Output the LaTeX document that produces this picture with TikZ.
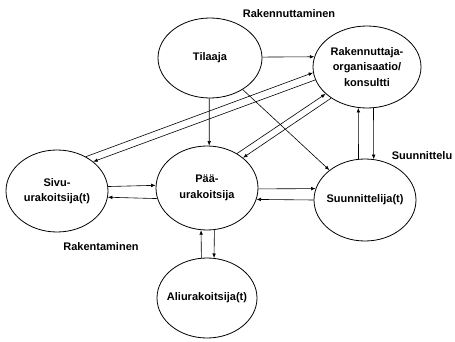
\documentclass[tikz,border=0pt]{standalone}
\usepackage{fontspec}
\setmainfont{Liberation Sans}
\usetikzlibrary{shapes.geometric,arrows.meta}
\tikzset{
  ell/.style={draw, ellipse, line width=0.8pt, inner sep=0pt},
  txt/.style={font=\fontsize{11}{15.5}\selectfont\bfseries, align=center, inner sep=0pt},
  conn/.style={line width=0.6pt, -{Latex[length=4.5pt,width=3.6pt]}},
}
\begin{document}
\begin{tikzpicture}[x=1pt,y=-1pt]
\useasboundingbox (0,0) rectangle (455,342);
% ellipses
\node[ell, minimum width=104pt, minimum height=80pt] (t) at (210,58) {};
\node[ell, minimum width=108pt, minimum height=82pt] (r) at (367,67) {};
\node[ell, minimum width=102pt, minimum height=82pt] (s) at (57,191) {};
\node[ell, minimum width=102pt, minimum height=84pt] (p) at (207,188) {};
\node[ell, minimum width=102pt, minimum height=82pt] (u) at (365,200) {};
\node[ell, minimum width=100pt, minimum height=80pt] (a) at (207,298) {};
% texts
\node[txt] (tt) at (t.center) {Tilaaja};
\node[txt] (rt) at (r.center) {Rakennuttaja-\\organisaatio/\\konsultti};
\node[txt] (st) at (s.center) {Sivu-\\urakoitsija(t)};
\node[txt] (pt) at (p.center) {Pää-\\urakoitsija};
\node[txt] (ut) at (u.center) {Suunnittelija(t)};
\node[txt] (at) at (a.center) {Aliurakoitsija(t)};
\node[txt] (l1) at (289,14) {Rakennuttaminen};
\node[txt] (l2) at (422,156) {Suunnittelu};
\node[txt] (l3) at (101,247) {Rakentaminen};
% connectors
\draw[conn] (t.1.1) -- (r.169.2);
\draw[conn] (t.-91.4) -- (p.87.3);
\draw[conn] (t.-44.1) -- (u.140.4);
\draw[conn] (s.50.8) -- (r.-174.5);
\draw[conn] (r.-166.9) -- (s.39.8);
\draw[conn] (p.49.3) -- (r.-147.8);
\draw[conn] (r.-139.4) -- (p.40.1);
\draw[conn] (u.99.8) -- (r.-102.6);
\draw[conn] (r.-81.6) -- (u.78.8);
\draw[conn] (s.5.6) -- (p.177.8);
\draw[conn] (p.-168.6) -- (s.-7.9);
\draw[conn] (p.-1.1) -- (u.167.4);
\draw[conn] (u.180) -- (p.-13.8);
\draw[conn] (a.98.6) -- (p.-98.2);
\draw[conn] (p.-80.4) -- (a.80.0);
\end{tikzpicture}
\end{document}
